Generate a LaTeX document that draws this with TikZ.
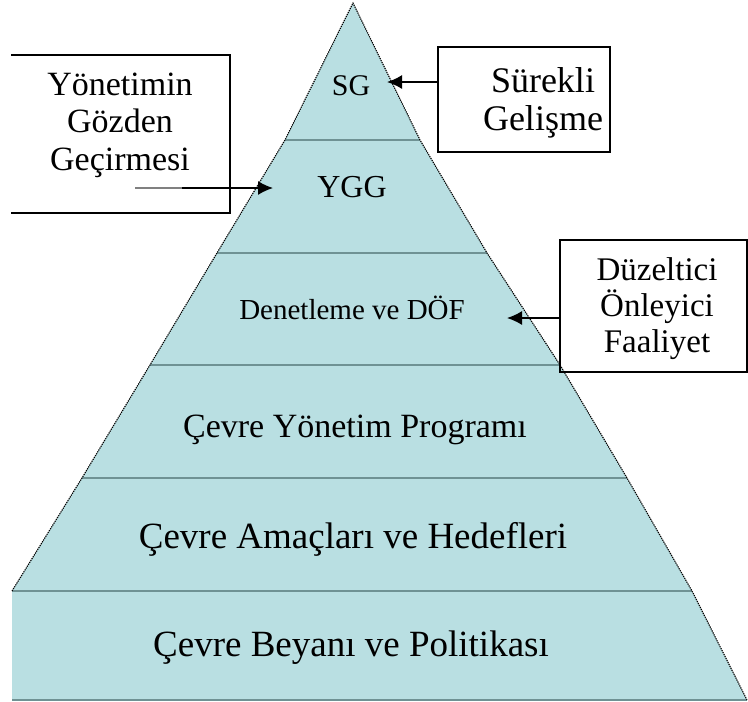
\documentclass[tikz,border=0pt]{standalone}
\usepackage{fontspec}
\setmainfont{Liberation Serif}
\usetikzlibrary{arrows.meta}
\definecolor{layerfill}{HTML}{B9DFE2}
\definecolor{layerline}{HTML}{6F9294}
\newcommand{\fs}[2]{\fontsize{#1pt}{#2pt}\selectfont}
\begin{document}
\begin{tikzpicture}[x=1pt,y=-1pt,
  edge/.style={black, line width=1.1pt, dash pattern=on 1.3pt off 0.9pt},
  sep/.style={layerline, line width=1.6pt},
  frame/.style={black, line width=1.4pt},
  arr/.style={black, line width=1.5pt, -{Latex[length=15pt,width=14pt]}},
  lab/.style={anchor=base, inner sep=0pt, align=center},
  boxnode/.style={minimum width=#1, inner sep=0pt, outer sep=0pt},
]
\useasboundingbox (0,0) rectangle (748,702);

% pyramid body
\fill[layerfill] (353,3) -- (420,140) -- (487,253) -- (560,365) -- (627,478)
  -- (692,591) -- (747,700) -- (12,700) -- (12,591) -- (82,478) -- (150,365)
  -- (217,253) -- (285,140) -- cycle;

% layer separators
\draw[sep] (285,140) -- (420,140);
\draw[sep] (217,253) -- (487,253);
\draw[sep] (150,365) -- (560,365);
\draw[sep] (82,478) -- (627,478);
\draw[sep] (12,591) -- (692,591);
\draw[sep] (12,700) -- (747,700);

% dotted outline of the slopes
\draw[edge] (12,591) -- (82,478) -- (150,365) -- (217,253) -- (285,140) -- (353,3)
  -- (420,140) -- (487,253) -- (560,365) -- (627,478) -- (692,591) -- (747,700);

% layer labels
\node[lab, font=\fs{30}{32}] (sg) at (351,95) {SG};
\node[lab, font=\fs{32}{34}] (ygg) at (352,197) {YGG};
\node[lab, font=\fs{29}{31}] (dof) at (352,319) {Denetleme ve DÖF};
\node[lab, font=\fs{34}{36}] (cyp) at (355,437) {Çevre Yönetim Programı};
\node[lab, font=\fs{37}{39}] (cah) at (353,548) {Çevre Amaçları ve Hedefleri};
\node[lab, font=\fs{37}{39}] (cbp) at (351,656) {Çevre Beyanı ve Politikası};

% side boxes (multi-line labels are placed by the baseline of their last line)
\node[boxnode=219pt, minimum height=158pt] (ggbox) at (120.5,134) {};
\draw[frame] (ggbox.north west) -- (ggbox.north east) -- (ggbox.south east) -- (ggbox.south west);
\node[lab, font=\fs{34}{37.5}] (ggtext) at (120,170) {Yönetimin\\Gözden\\Geçirmesi};

\node[boxnode=172pt, minimum height=105pt, draw, frame] (sgbox) at (524,99.5) {};
\node[lab, font=\fs{36}{38}] (sgtext) at (543,130) {Sürekli\\Gelişme};

\node[boxnode=187pt, minimum height=132pt, draw, frame] (dofbox) at (653.5,306) {};
\node[lab, font=\fs{33}{36}] (doftext) at (657,352) {Düzeltici\\Önleyici\\Faaliyet};

% arrows into the pyramid
\coordinate (sgtip) at (387,82);
\draw[arr] (sgbox.west |- sgtip) -- (sgtip);

\coordinate (yggtail) at (135,188);
\coordinate (yggmid) at (182,188);
\coordinate (yggtip) at (273,188);
\draw[gray, line width=1.6pt] (yggtail) -- (yggmid);
\draw[arr] (yggmid) -- (yggtip);

\coordinate (doftip) at (507,318);
\draw[arr] (dofbox.west |- doftip) -- (doftip);
\end{tikzpicture}
\end{document}
